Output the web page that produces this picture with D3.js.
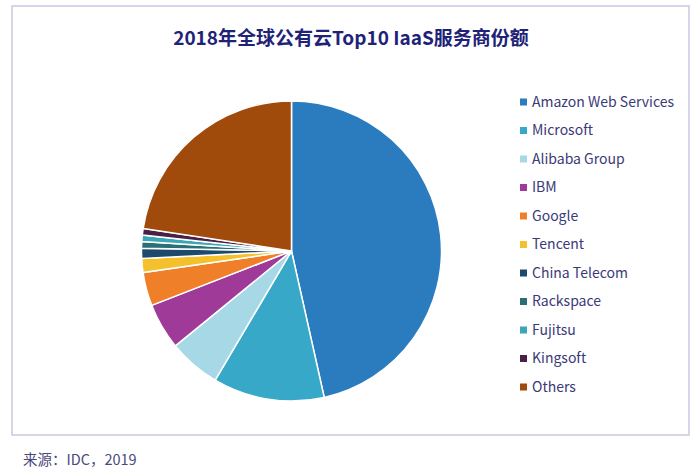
<!DOCTYPE html>
<html>
<head>
<meta charset="utf-8">
<script src="https://cdn.jsdelivr.net/npm/d3@7"></script>
<style>
  body { margin: 0; background: #fff; }
  svg { display: block; font-family: "Noto Sans CJK SC", "Noto Sans", sans-serif; }
</style>
</head>
<body>
<svg id="chart"></svg>
<script>
var companies = ["Amazon Web Services", "Microsoft", "Alibaba Group", "IBM", "Google",
    "Tencent", "China Telecom", "Rackspace", "Fujitsu", "Kingsoft", "Others"];
var shares = [46.5, 12.0, 5.6, 5.0, 3.6, 1.5, 1.1, 0.7, 0.7, 0.7, 22.6];
var colors = ["#2b7bbf", "#37a8c8", "#a7d8e6", "#a03a98", "#f07f2a", "#f4c12c",
    "#1d4a6c", "#2b6e76", "#3ba7b6", "#4b2048", "#a04a0c"];

var data = companies.map((c, i) => ({ name: c, value: shares[i] }));

var width = 700, height = 471;
var svg = d3.select('#chart')
    .attr('width', width)
    .attr('height', height);

// frame
svg.append('rect')
    .attr('x', 12).attr('y', 6)
    .attr('width', 677).attr('height', 429)
    .attr('fill', '#fff')
    .attr('stroke', '#c9c8e2')
    .attr('stroke-width', 1.5);

svg.append('text')
    .attr('x', 351).attr('y', 45)
    .attr('text-anchor', 'middle')
    .attr('font-size', 19)
    .attr('font-weight', 'bold')
    .attr('fill', '#1e2378')
    .text('2018年全球公有云Top10 IaaS服务商份额');

var color = d3.scaleOrdinal().domain(companies).range(colors);

var pie = d3.pie().sort(null).value(d => d.value);
var arc = d3.arc().innerRadius(0).outerRadius(150);

var g = svg.append('g').attr('transform', 'translate(291.5,251)');
g.selectAll('path')
    .data(pie(data))
    .enter()
    .append('path')
    .attr('d', arc)
    .attr('fill', d => color(d.data.name))
    .attr('stroke', '#fff')
    .attr('stroke-width', 1.5);

// legend
var y = d3.scalePoint().domain(companies).range([102, 387]);
var item = svg.selectAll('g.legend')
    .data(companies)
    .enter()
    .append('g')
    .attr('class', 'legend')
    .attr('transform', d => 'translate(520,' + y(d) + ')');

item.append('rect')
    .attr('x', 0).attr('y', -3.5)
    .attr('width', 7).attr('height', 7)
    .attr('fill', d => color(d));

item.append('text')
    .attr('x', 12).attr('y', 0)
    .attr('dy', '0.35em')
    .attr('font-size', 14)
    .attr('fill', '#3a3a78')
    .text(d => d);

svg.append('text')
    .attr('x', 23).attr('y', 465)
    .attr('font-size', 14.5)
    .attr('fill', '#4a4a7a')
    .text('来源：IDC，2019');
</script>
</body>
</html>
